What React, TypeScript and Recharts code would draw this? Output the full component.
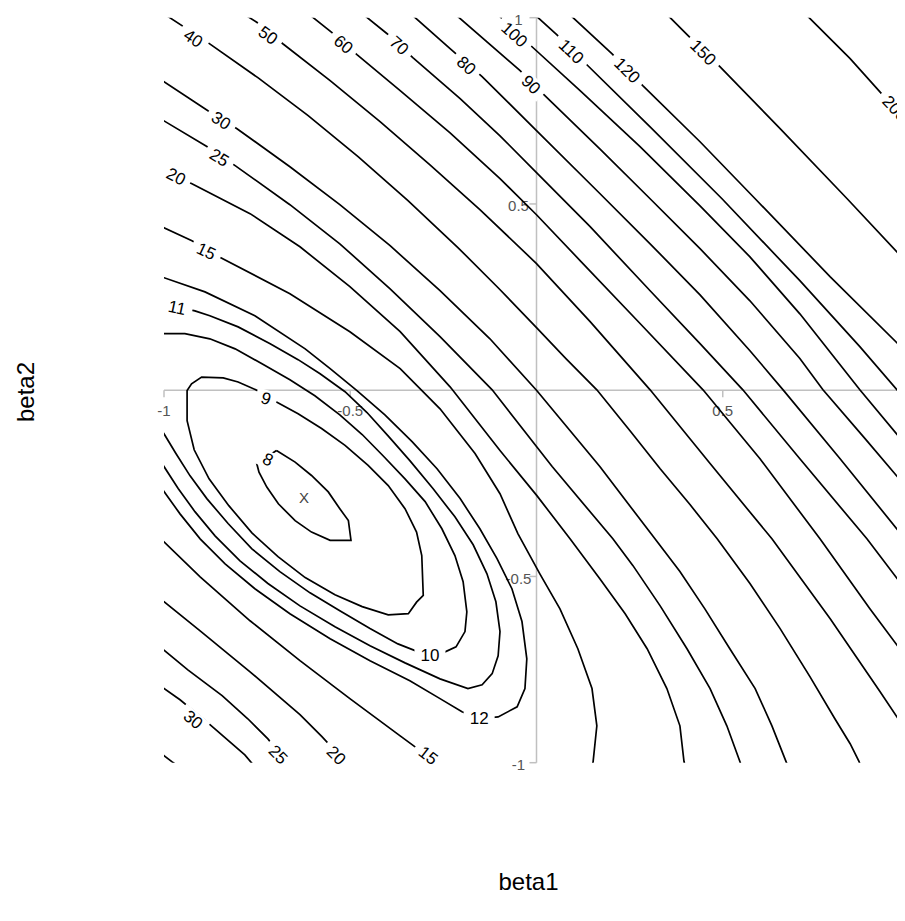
import React from 'react';
import { ScatterChart, Scatter, XAxis, YAxis } from 'recharts';

// ---------- data (beta1, beta2) ----------
const contour8 = [[-0.698,-0.162],[-0.648,-0.193],[-0.604,-0.229],[-0.559,-0.273],[-0.528,-0.318],[-0.505,-0.350],[-0.498,-0.403],[-0.554,-0.403],[-0.604,-0.381],[-0.648,-0.350],[-0.693,-0.305],[-0.724,-0.260],[-0.745,-0.220],[-0.751,-0.197],[-0.698,-0.162]];
const contour9 = [[-0.698,-0.032],[-0.640,-0.063],[-0.577,-0.103],[-0.514,-0.148],[-0.452,-0.202],[-0.398,-0.256],[-0.353,-0.318],[-0.322,-0.381],[-0.308,-0.444],[-0.304,-0.551],[-0.322,-0.569],[-0.344,-0.600],[-0.398,-0.603],[-0.468,-0.581],[-0.541,-0.549],[-0.621,-0.503],[-0.694,-0.447],[-0.764,-0.383],[-0.826,-0.310],[-0.879,-0.238],[-0.919,-0.160],[-0.938,-0.082],[-0.938,-0.001],[-0.926,0.017],[-0.899,0.035],[-0.841,0.033],[-0.801,0.022],[-0.751,0.000],[-0.698,-0.032]];
const contour10 = [[-1.03,-0.067],[-1.0,-0.117],[-0.968,-0.170],[-0.930,-0.230],[-0.885,-0.291],[-0.828,-0.358],[-0.764,-0.426],[-0.689,-0.487],[-0.608,-0.544],[-0.528,-0.592],[-0.447,-0.640],[-0.372,-0.681],[-0.326,-0.699],[-0.286,-0.708],[-0.251,-0.705],[-0.216,-0.689],[-0.192,-0.648],[-0.187,-0.595],[-0.197,-0.514],[-0.219,-0.444],[-0.254,-0.372],[-0.299,-0.299],[-0.353,-0.238],[-0.412,-0.176],[-0.468,-0.119],[-0.528,-0.066],[-0.595,-0.015],[-0.662,0.028],[-0.737,0.071],[-0.809,0.111],[-0.877,0.138],[-0.944,0.152],[-1.0,0.152],[-1.03,0.152]];
const contour11 = [[-1.03,-0.158],[-1.0,-0.205],[-0.962,-0.264],[-0.917,-0.326],[-0.863,-0.391],[-0.796,-0.458],[-0.721,-0.519],[-0.635,-0.579],[-0.541,-0.635],[-0.447,-0.686],[-0.353,-0.732],[-0.259,-0.775],[-0.184,-0.801],[-0.146,-0.791],[-0.119,-0.761],[-0.103,-0.713],[-0.098,-0.648],[-0.109,-0.568],[-0.133,-0.493],[-0.170,-0.415],[-0.219,-0.340],[-0.278,-0.264],[-0.340,-0.189],[-0.399,-0.122],[-0.455,-0.060],[-0.514,-0.004],[-0.581,0.044],[-0.640,0.082],[-0.715,0.125],[-0.801,0.170],[-0.877,0.200],[-0.917,0.213],[-0.965,0.224],[-1.0,0.230],[-1.03,0.235]];
const contour12 = [[-1.03,-0.23],[-1.0,-0.272],[-0.957,-0.332],[-0.903,-0.399],[-0.836,-0.466],[-0.756,-0.533],[-0.662,-0.600],[-0.554,-0.667],[-0.447,-0.726],[-0.340,-0.780],[-0.259,-0.828],[-0.200,-0.863],[-0.152,-0.882],[-0.103,-0.877],[-0.052,-0.850],[-0.031,-0.801],[-0.026,-0.721],[-0.039,-0.621],[-0.066,-0.533],[-0.106,-0.452],[-0.152,-0.372],[-0.205,-0.291],[-0.267,-0.211],[-0.334,-0.138],[-0.407,-0.066],[-0.482,-0.001],[-0.554,0.058],[-0.621,0.111],[-0.756,0.200],[-0.890,0.264],[-1.0,0.302],[-1.03,0.31]];
const contour15 = [[-1.024,-0.385],[-1.0,-0.407],[-0.903,-0.501],[-0.769,-0.619],[-0.635,-0.726],[-0.501,-0.828],[-0.366,-0.928],[-0.294,-0.981],[-0.246,-1.021],[0.144,-1.038],[0.152,-0.997],[0.162,-0.901],[0.149,-0.801],[0.111,-0.694],[0.063,-0.587],[0.009,-0.493],[-0.050,-0.385],[-0.098,-0.278],[-0.165,-0.170],[-0.259,-0.050],[-0.366,0.058],[-0.501,0.157],[-0.662,0.259],[-0.850,0.357],[-0.925,0.401],[-1.0,0.436],[-1.024,0.447]];
const contour20 = [[-1.024,-0.549],[-1.0,-0.568],[-0.903,-0.646],[-0.769,-0.756],[-0.635,-0.871],[-0.576,-0.930],[-0.541,-0.968],[-0.501,-1.030],[0.407,-1.038],[0.396,-0.997],[0.385,-0.901],[0.350,-0.801],[0.297,-0.694],[0.238,-0.600],[0.170,-0.506],[0.090,-0.399],[0.001,-0.283],[-0.098,-0.162],[-0.232,0.009],[-0.366,0.157],[-0.501,0.278],[-0.635,0.385],[-0.769,0.474],[-0.925,0.554],[-1.0,0.589],[-1.024,0.600]];
const contour25 = [[-1.024,-0.675],[-1.0,-0.698],[-0.936,-0.751],[-0.844,-0.820],[-0.775,-0.882],[-0.721,-0.936],[-0.694,-0.970],[-0.656,-1.030],[0.560,-1.038],[0.546,-0.997],[0.511,-0.901],[0.466,-0.801],[0.404,-0.694],[0.332,-0.579],[0.259,-0.471],[0.205,-0.399],[0.042,-0.205],[-0.119,0.001],[-0.259,0.144],[-0.393,0.272],[-0.528,0.393],[-0.662,0.498],[-0.809,0.603],[-0.885,0.654],[-1.0,0.723],[-1.024,0.737]];
const contour30 = [[-1.024,-0.785],[-1.0,-0.801],[-0.957,-0.831],[-0.882,-0.893],[-0.783,-0.979],[-0.756,-1.011],[0.686,-1.038],[0.670,-0.997],[0.632,-0.901],[0.587,-0.801],[0.519,-0.694],[0.452,-0.587],[0.385,-0.487],[0.318,-0.399],[0.170,-0.205],[0,0],[-0.125,0.138],[-0.259,0.267],[-0.393,0.388],[-0.528,0.498],[-0.662,0.600],[-0.804,0.702],[-0.882,0.750],[-1.0,0.828],[-1.024,0.842]];
const contour40 = [[-1.024,-0.962],[-1.0,-0.981],[-0.979,-0.997],[-0.957,-1.013],[0.877,-1.030],[0.866,-0.997],[0.842,-0.949],[0.801,-0.882],[0.734,-0.769],[0.654,-0.640],[0.573,-0.519],[0.485,-0.399],[0.412,-0.307],[0.332,-0.211],[0.251,-0.109],[0.162,0.001],[0.079,0.085],[0,0.168],[-0.103,0.275],[-0.211,0.383],[-0.345,0.509],[-0.479,0.627],[-0.613,0.737],[-0.748,0.839],[-0.882,0.933],[-0.989,1.003],[-1.011,1.016]];
const contour50 = [[-0.788,1.013],[-0.775,1.003],[-0.750,0.987],[-0.681,0.930],[-0.554,0.831],[-0.420,0.721],[-0.286,0.605],[-0.152,0.485],[0,0.340],[0.144,0.184],[0.305,0.001],[0.466,-0.197],[0.632,-0.399],[0.788,-0.613],[0.922,-0.809],[0.989,-0.909],[1.016,-0.949]];
const contour60 = [[-0.616,1.013],[-0.603,1.003],[-0.549,0.960],[-0.482,0.901],[-0.366,0.804],[-0.232,0.691],[-0.098,0.568],[0,0.471],[0.117,0.348],[0.278,0.179],[0.447,0.001],[0.600,-0.184],[0.761,-0.399],[0.895,-0.587],[0.989,-0.713],[1.016,-0.753]];
const contour70 = [[-0.471,1.013],[-0.458,1.003],[-0.401,0.957],[-0.332,0.893],[-0.205,0.783],[-0.098,0.683],[0,0.584],[0.144,0.439],[0.305,0.267],[0.439,0.125],[0.554,0.001],[0.707,-0.184],[0.887,-0.399],[0.989,-0.533],[1.016,-0.568]];
const contour80 = [[-0.342,1.016],[-0.329,1.003],[-0.232,0.917],[-0.146,0.842],[0,0.697],[0.170,0.528],[0.305,0.393],[0.439,0.256],[0.573,0.106],[0.662,0.001],[0.815,-0.184],[0.989,-0.399],[1.016,-0.434]];
const contour90 = [[-0.224,1.016],[-0.211,1.003],[-0.044,0.858],[0.017,0.796],[0.170,0.648],[0.305,0.514],[0.439,0.380],[0.573,0.240],[0.707,0.085],[0.769,0.001],[0.882,-0.130],[0.989,-0.256],[1.016,-0.291]];
const contour100 = [[-0.111,1.016],[-0.098,1.003],[-0.012,0.922],[0.117,0.804],[0.278,0.654],[0.439,0.495],[0.573,0.358],[0.707,0.205],[0.868,0.001],[0.989,-0.144],[1.016,-0.179]];
const contour110 = [[-0.012,1.016],[0.001,1.003],[0.055,0.954],[0.138,0.871],[0.305,0.707],[0.498,0.514],[0.707,0.294],[0.868,0.117],[0.968,0.001],[1.016,-0.055]];
const contour120 = [[0.082,1.016],[0.095,1.003],[0.203,0.903],[0.286,0.817],[0.439,0.667],[0.587,0.514],[0.788,0.305],[0.989,0.106],[1.016,0.079]];
const contour150 = [[0.342,1.016],[0.356,1.003],[0.407,0.952],[0.493,0.868],[0.654,0.702],[0.834,0.514],[0.989,0.348],[1.016,0.318]];
const contour200 = [[0.715,1.016],[0.729,1.003],[0.842,0.890],[0.922,0.801],[0.989,0.726],[1.016,0.697]];

const contourLabels = [
  { x: -0.922, y: 0.944, text: '40', angle: 33 },
  { x: -0.721, y: 0.952, text: '50', angle: 36 },
  { x: -0.519, y: 0.928, text: '60', angle: 40 },
  { x: -0.369, y: 0.925, text: '70', angle: 42 },
  { x: -0.189, y: 0.871, text: '80', angle: 42 },
  { x: -0.015, y: 0.820, text: '90', angle: 44 },
  { x: -0.060, y: 0.954, text: '100', angle: 42 },
  { x: 0.093, y: 0.909, text: '110', angle: 44 },
  { x: 0.243, y: 0.858, text: '120', angle: 45 },
  { x: 0.447, y: 0.906, text: '150', angle: 45 },
  { x: 0.962, y: 0.756, text: '200', angle: 47 },
  { x: -0.847, y: 0.723, text: '30', angle: 33 },
  { x: -0.852, y: 0.624, text: '25', angle: 32 },
  { x: -0.968, y: 0.573, text: '20', angle: 27 },
  { x: -0.887, y: 0.372, text: '15', angle: 25 },
  { x: -0.965, y: 0.221, text: '11', angle: 12 },
  { x: -0.726, y: -0.023, text: '9', angle: 18 },
  { x: -0.721, y: -0.187, text: '8', angle: 25 },
  { x: -0.286, y: -0.713, text: '10', angle: 0 },
  { x: -0.154, y: -0.882, text: '12', angle: 0 },
  { x: -0.291, y: -0.981, text: '15', angle: 38 },
  { x: -0.538, y: -0.981, text: '20', angle: 45 },
  { x: -0.694, y: -0.979, text: '25', angle: 45 },
  { x: -0.922, y: -0.885, text: '30', angle: 40 },
];

const minimumPoint = [{ x: -0.624, y: -0.289, text: 'X' }];
const xTickValues = [-1, -0.5, 0.5];
const xTickLabels = ['-1', '-0.5', '0.5'];
const yTickValues = [1, 0.5, -0.5, -1];
const yTickLabels = ['1', '0.5', '-0.5', '-1'];
const xAxisLine = [{ x: -1, y: 0 }, { x: 1, y: 0 }];
const yAxisLine = [{ x: 0, y: -1 }, { x: 0, y: 1 }];

const contours = [contour8, contour9, contour10, contour11, contour12, contour15, contour20, contour25, contour30, contour40, contour50, contour60, contour70, contour80, contour90, contour100, contour110, contour120, contour150, contour200];

// ---------- styling ----------
const FONT = '"Liberation Sans", Arial, Helvetica, sans-serif';
const AXIS_GRAY = '#c0c0c0';
const TICK_COLOR = '#555555';

const toPts = (a: number[][]) => a.map(([x, y]) => ({ x, y }));
const xTickData = xTickValues.map((v, i) => ({ x: v, y: 0, label: xTickLabels[i] }));
const yTickData = yTickValues.map((v, i) => ({ x: 0, y: v, label: yTickLabels[i] }));

const Nothing = () => <g />;

const XTick = (props: any) => {
  const { cx, cy, payload } = props;
  return (
    <g>
      <line x1={cx} y1={cy} x2={cx} y2={cy + 7} stroke={AXIS_GRAY} strokeWidth={1.5} />
      <text x={cx} y={cy + 20} textAnchor="middle" dominantBaseline="central" fontSize={15} fill={TICK_COLOR} fontFamily={FONT}>{payload.label}</text>
    </g>
  );
};

const YTick = (props: any) => {
  const { cx, cy, payload } = props;
  return (
    <g>
      <line x1={cx - 7} y1={cy} x2={cx} y2={cy} stroke={AXIS_GRAY} strokeWidth={1.5} />
      <text x={cx - 18} y={cy + 2} textAnchor="middle" dominantBaseline="central" fontSize={15} fill={TICK_COLOR} fontFamily={FONT}>{payload.label}</text>
    </g>
  );
};

const ContourLabel = (props: any) => {
  const { cx, cy, payload } = props;
  const w = payload.text.length * 9.5 + 12;
  return (
    <g transform={`translate(${cx},${cy}) rotate(${payload.angle})`}>
      <rect x={-w / 2} y={-8.5} width={w} height={17} fill="#ffffff" />
      <text x={0} y={0} textAnchor="middle" dominantBaseline="central" fontSize={17} fill="#000000" fontFamily={FONT}>{payload.text}</text>
    </g>
  );
};

const MinMark = (props: any) => {
  const { cx, cy, payload } = props;
  return (
    <text x={cx} y={cy} textAnchor="middle" dominantBaseline="central" fontSize={15} fill="#444444" fontFamily={FONT}>{payload.text}</text>
  );
};

export default function App() {
  return (
    <div style={{ position: 'relative', width: 897, height: 900, overflow: 'hidden', background: '#fff' }}>
      <ScatterChart width={915} height={900} margin={{ top: 9.7, left: 156, right: 14, bottom: 145.3 }}>
        <XAxis xAxisId="c" type="number" dataKey="x" domain={[-1, 1]} allowDataOverflow hide />
        <YAxis yAxisId="c" type="number" dataKey="y" domain={[-1, 1]} allowDataOverflow hide />
        <XAxis xAxisId="t" type="number" dataKey="x" domain={[-1, 1]} hide />
        <YAxis yAxisId="t" type="number" dataKey="y" domain={[-1, 1]} hide />

        <Scatter xAxisId="t" yAxisId="t" data={xAxisLine} line={{ stroke: AXIS_GRAY, strokeWidth: 1.5 }} lineType="joint" shape={Nothing} isAnimationActive={false} />
        <Scatter xAxisId="t" yAxisId="t" data={yAxisLine} line={{ stroke: AXIS_GRAY, strokeWidth: 1.5 }} lineType="joint" shape={Nothing} isAnimationActive={false} />
        <Scatter xAxisId="t" yAxisId="t" data={xTickData} shape={XTick} isAnimationActive={false} />
        <Scatter xAxisId="t" yAxisId="t" data={yTickData} shape={YTick} isAnimationActive={false} />

        {contours.map((c, i) => (
          <Scatter key={i} xAxisId="c" yAxisId="c" data={toPts(c)} line={{ stroke: '#000000', strokeWidth: 1.7, fill: 'none' }} lineType="joint" shape={Nothing} isAnimationActive={false} />
        ))}

        <Scatter xAxisId="t" yAxisId="t" data={contourLabels} shape={ContourLabel} isAnimationActive={false} />
        <Scatter xAxisId="t" yAxisId="t" data={minimumPoint} shape={MinMark} isAnimationActive={false} />
      </ScatterChart>
      <svg width={897} height={900} style={{ position: 'absolute', left: 0, top: 0, pointerEvents: 'none' }}>
        <text x={520.5} y={882} textAnchor="middle" fontSize={24} fill="#000" fontFamily={FONT}>beta1</text>
        <text transform="translate(17,384) rotate(-90)" textAnchor="middle" dominantBaseline="central" fontSize={24} fill="#000" fontFamily={FONT}>beta2</text>
      </svg>
    </div>
  );
}
